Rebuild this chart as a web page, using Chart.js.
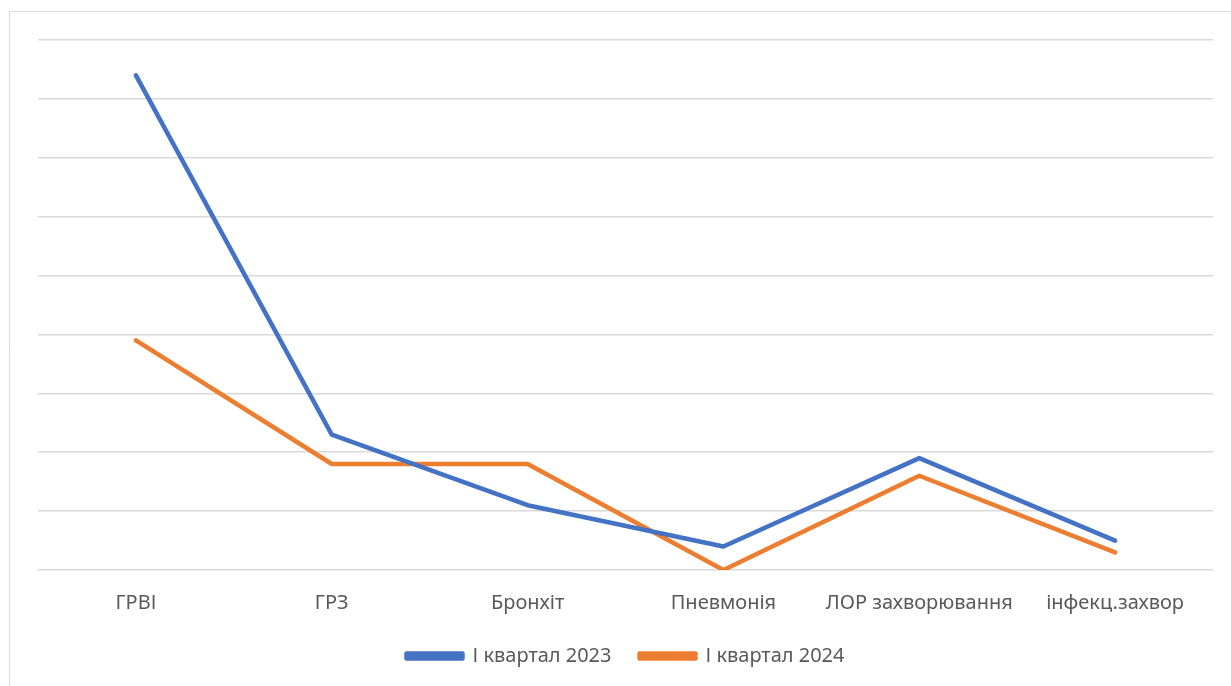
<!DOCTYPE html>
<html><head><meta charset="utf-8">
<script src="https://cdn.jsdelivr.net/npm/chart.js@4/dist/chart.umd.min.js"></script>
<style>html,body{margin:0;padding:0;background:#fff;}#wrap{width:1231px;height:686px;position:relative;}</style>
</head><body><div id="wrap"><canvas id="c" width="1231" height="686"></canvas></div>
<script>
const categories = ["ГРВІ", "ГРЗ", "Бронхіт", "Пневмонія", "ЛОР захворювання", "інфекц.захвор"];
const series2023 = [84, 23, 11, 4, 19, 5];
const series2024 = [39, 18, 18, 0, 16, 3];
const seriesNames = ["І квартал 2023", "І квартал 2024"];
const FONT = "'Noto Sans', sans-serif";
const BOTTOM_PAD = 10;
const PLOT_BOTTOM = 570;

const borderPlugin = {
  id: 'outerBorder',
  beforeDraw(chart) {
    const ctx = chart.ctx;
    ctx.save();
    ctx.strokeStyle = '#d9d9d9';
    ctx.lineWidth = 1;
    ctx.beginPath();
    ctx.moveTo(9.5, 686);
    ctx.lineTo(9.5, 11.5);
    ctx.lineTo(1231, 11.5);
    ctx.stroke();
    ctx.restore();
  }
};

new Chart(document.getElementById('c'), {
  type: 'line',
  data: {
    labels: categories,
    datasets: [
      { label: seriesNames[0], data: series2023, borderColor: '#4472C4', backgroundColor: '#4472C4', borderWidth: 4.5, pointRadius: 0, borderCapStyle: 'round', borderJoinStyle: 'round', tension: 0 },
      { label: seriesNames[1], data: series2024, borderColor: '#ED7D31', backgroundColor: '#ED7D31', borderWidth: 4.5, pointRadius: 0, borderCapStyle: 'round', borderJoinStyle: 'round', tension: 0 }
    ]
  },
  options: {
    responsive: false,
    animation: false,
    layout: { padding: { left: 38, right: 18, top: 40, bottom: BOTTOM_PAD } },
    plugins: {
      legend: {
        position: 'bottom',
        labels: { boxWidth: 56, boxHeight: 5, padding: 28, color: '#595959', font: { family: FONT, size: 20 } }
      },
      tooltip: { enabled: false }
    },
    scales: {
      x: {
        offset: true,
        grid: { display: false },
        border: { display: false },
        ticks: { color: '#595959', padding: 13, font: { family: FONT, size: 20 }, maxRotation: 0, autoSkip: false },
        afterFit(scale) {
          const lg = scale.chart.legend;
          const lh = lg ? lg.height : 0;
          scale.height = 686 - BOTTOM_PAD - lh - PLOT_BOTTOM;
        }
      },
      y: {
        min: 0, max: 90,
        ticks: { display: false, stepSize: 10 },
        grid: { color: '#d9d9d9', lineWidth: 1.5, drawTicks: false },
        border: { display: false }
      }
    }
  },
  plugins: [borderPlugin]
});
</script></body></html>
